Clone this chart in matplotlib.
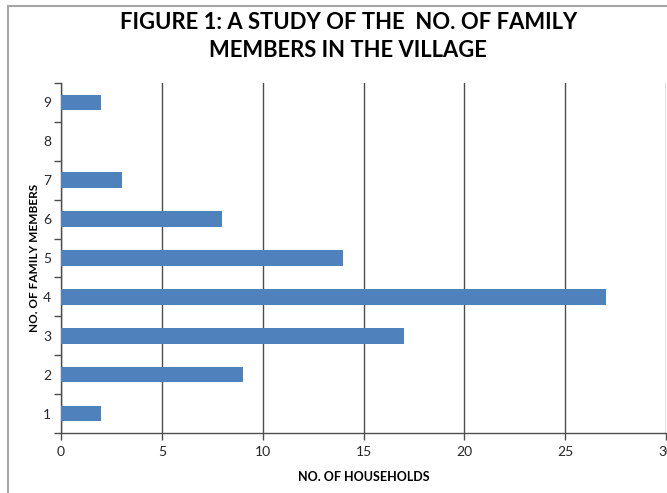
import matplotlib
matplotlib.use('Agg')
import matplotlib.pyplot as plt
from matplotlib.patches import Rectangle
from matplotlib.ticker import FixedLocator

# households per family size
familySizes = [1, 2, 3, 4, 5, 6, 7, 8, 9]
households  = [2, 9, 17, 27, 14, 8, 3, 0, 2]
xTicks      = [0, 5, 10, 15, 20, 25, 30]

TITLE      = 'FIGURE 1: A STUDY OF THE  NO. OF FAMILY\nMEMBERS IN THE VILLAGE'
BAR_COLOR  = '#4f81bd'
GRID_COLOR = '#4d4d4d'
TEXT_FONT  = ['Lato', 'DejaVu Sans']

fig = plt.figure(figsize=(6.67, 4.93), dpi=100)
ax  = fig.add_axes([0.0915, 0.1217, 0.907, 0.7099])

ax.barh(familySizes, households, height=0.4, color=BAR_COLOR, linewidth=0, zorder=3)

ax.set_xlim(0, 30)
ax.set_ylim(0.5, 9.5)
ax.set_xticks(xTicks)
ax.yaxis.set_major_locator(FixedLocator(familySizes))
ax.yaxis.set_minor_locator(FixedLocator([v + 0.5 for v in range(0, 10)]))
ax.tick_params(axis='y', which='major', length=0, pad=7)
ax.tick_params(axis='y', which='minor', length=5, color=GRID_COLOR, width=1)
ax.tick_params(axis='x', which='major', length=5, color=GRID_COLOR, width=1, pad=4)
ax.tick_params(labelsize=10, labelcolor='#262626')
for lbl in ax.get_xticklabels() + ax.get_yticklabels():
    lbl.set_family(TEXT_FONT)

ax.grid(axis='x', color=GRID_COLOR, linewidth=1, zorder=0)
for side in ('top', 'right'):
    ax.spines[side].set_visible(False)
for side in ('left', 'bottom'):
    ax.spines[side].set_color(GRID_COLOR)
    ax.spines[side].set_linewidth(1)

ax.set_xlabel('NO. OF HOUSEHOLDS', fontsize=9, fontweight='bold',
              family=TEXT_FONT, labelpad=10)
ax.set_ylabel('NO. OF FAMILY MEMBERS', fontsize=8.5, fontweight='bold',
              family=TEXT_FONT, labelpad=2)

fig.text(0.522, 0.975, TITLE, ha='center', va='top', fontsize=15.8,
         fontweight='bold', family=TEXT_FONT, linespacing=1.4)

# outer chart frame
fig.patches.append(Rectangle((0.012, -0.02), 1.2, 1.008, transform=fig.transFigure,
                             fill=False, edgecolor='#a6a6a6', linewidth=1.5))

fig.savefig('out.png', dpi=100)
